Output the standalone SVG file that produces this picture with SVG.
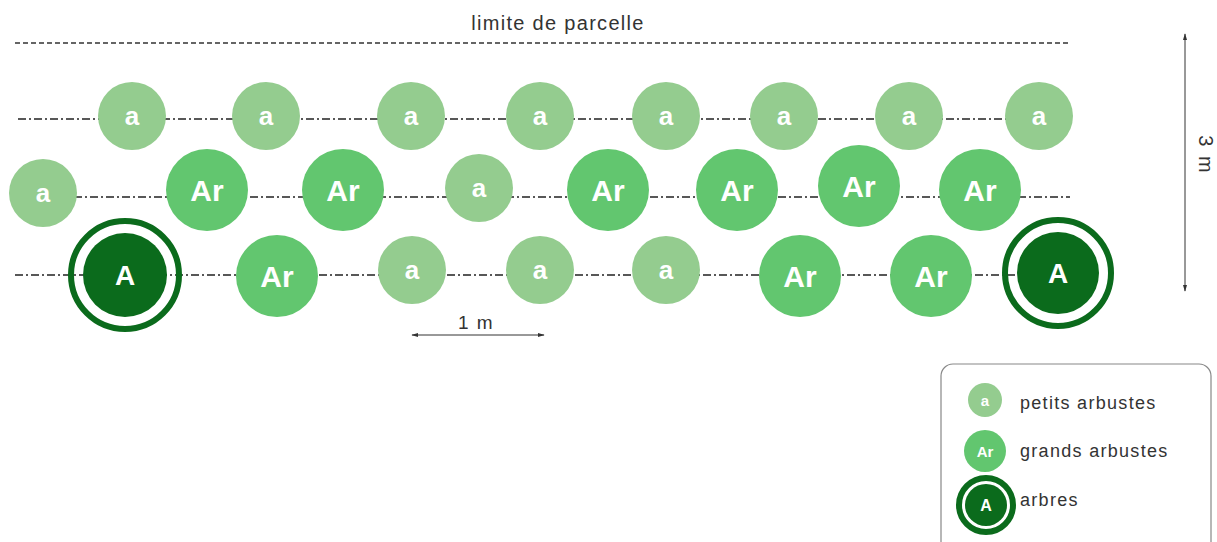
<svg xmlns="http://www.w3.org/2000/svg" width="1217" height="542" viewBox="0 0 1217 542">
<style>
  .t { font-family: "Liberation Sans", Arial, sans-serif; fill: #333; }
  .lbl { font-family: "Liberation Sans", Arial, sans-serif; fill: #fff; font-weight: bold; text-anchor: middle; }
  .pa { fill: #94cc8f; }
  .ga { fill: #62c66f; }
  .ar { fill: #0b6b1c; }
  .ring { fill: none; stroke: #0b6b1c; stroke-width: 6; }
  .row { stroke: #222; stroke-width: 1.6; stroke-dasharray: 8 3 2 3; fill: none; }
  .dim { stroke: #333; stroke-width: 1; fill: none; }
</style>
<defs>
  <marker id="ah" viewBox="0 0 10 10" refX="9" refY="5" markerWidth="7" markerHeight="7" orient="auto-start-reverse">
    <path d="M0,2 L10,5 L0,8 z" fill="#333"/>
  </marker>
</defs>
<rect width="1217" height="542" fill="#fff"/>

<g id="parcel-limit">
  <text class="t" x="558" y="30" font-size="20" letter-spacing="1.3" text-anchor="middle">limite de parcelle</text>
  <line x1="15" y1="43" x2="1068" y2="43" stroke="#333" stroke-width="1.4" stroke-dasharray="5 3"/>
</g>

<g id="connectors">
  <line class="row" x1="18" y1="119" x2="1040" y2="119"/>
  <line class="row" x1="42" y1="197" x2="1070" y2="197"/>
  <line class="row" x1="15" y1="275" x2="1058" y2="275"/>
  <line class="dim" x1="1185" y1="34" x2="1185" y2="291" marker-start="url(#ah)" marker-end="url(#ah)"/>
  <line class="dim" x1="412" y1="335" x2="544" y2="335" marker-start="url(#ah)" marker-end="url(#ah)"/>
</g>

<g id="dimensions">
  <text class="t" x="0" y="0" font-size="20" letter-spacing="2" text-anchor="middle" transform="translate(1199,155) rotate(90)">3 m</text>
  <text class="t" x="476" y="329" font-size="19" letter-spacing="1.5" text-anchor="middle">1 m</text>
</g>

<g id="row1">
  <g id="r1a1"><circle class="pa" cx="132" cy="116" r="34"/><text class="lbl" x="132" y="125" font-size="26">a</text></g>
  <g id="r1a2"><circle class="pa" cx="266" cy="116" r="34"/><text class="lbl" x="266" y="125" font-size="26">a</text></g>
  <g id="r1a3"><circle class="pa" cx="411" cy="116" r="34"/><text class="lbl" x="411" y="125" font-size="26">a</text></g>
  <g id="r1a4"><circle class="pa" cx="540" cy="116" r="34"/><text class="lbl" x="540" y="125" font-size="26">a</text></g>
  <g id="r1a5"><circle class="pa" cx="666" cy="116" r="34"/><text class="lbl" x="666" y="125" font-size="26">a</text></g>
  <g id="r1a6"><circle class="pa" cx="784" cy="116" r="34"/><text class="lbl" x="784" y="125" font-size="26">a</text></g>
  <g id="r1a7"><circle class="pa" cx="909" cy="116" r="34"/><text class="lbl" x="909" y="125" font-size="26">a</text></g>
  <g id="r1a8"><circle class="pa" cx="1039" cy="116" r="34"/><text class="lbl" x="1039" y="125" font-size="26">a</text></g>
</g>

<g id="row2">
  <g id="r2a1"><circle class="pa" cx="43" cy="193" r="34"/><text class="lbl" x="43" y="202" font-size="26">a</text></g>
  <g id="r2g1"><circle class="ga" cx="207" cy="190" r="41"/><text class="lbl" x="207" y="201" font-size="30">Ar</text></g>
  <g id="r2g2"><circle class="ga" cx="343" cy="190" r="41"/><text class="lbl" x="343" y="201" font-size="30">Ar</text></g>
  <g id="r2a2"><circle class="pa" cx="479" cy="188" r="34"/><text class="lbl" x="479" y="197" font-size="26">a</text></g>
  <g id="r2g3"><circle class="ga" cx="608" cy="190" r="41"/><text class="lbl" x="608" y="201" font-size="30">Ar</text></g>
  <g id="r2g4"><circle class="ga" cx="737" cy="190" r="41"/><text class="lbl" x="737" y="201" font-size="30">Ar</text></g>
  <g id="r2g5"><circle class="ga" cx="859" cy="186" r="41"/><text class="lbl" x="859" y="197" font-size="30">Ar</text></g>
  <g id="r2g6"><circle class="ga" cx="980" cy="190" r="41"/><text class="lbl" x="980" y="201" font-size="30">Ar</text></g>
</g>

<g id="row3">
  <g id="r3A1"><circle class="ring" cx="125" cy="275" r="54"/><circle class="ar" cx="125" cy="275" r="42"/><text class="lbl" x="125" y="285" font-size="28">A</text></g>
  <g id="r3g1"><circle class="ga" cx="277" cy="276" r="41"/><text class="lbl" x="277" y="287" font-size="30">Ar</text></g>
  <g id="r3a1"><circle class="pa" cx="412" cy="270" r="34"/><text class="lbl" x="412" y="279" font-size="26">a</text></g>
  <g id="r3a2"><circle class="pa" cx="540" cy="270" r="34"/><text class="lbl" x="540" y="279" font-size="26">a</text></g>
  <g id="r3a3"><circle class="pa" cx="666" cy="270" r="34"/><text class="lbl" x="666" y="279" font-size="26">a</text></g>
  <g id="r3g2"><circle class="ga" cx="800" cy="276" r="41"/><text class="lbl" x="800" y="287" font-size="30">Ar</text></g>
  <g id="r3g3"><circle class="ga" cx="931" cy="276" r="41"/><text class="lbl" x="931" y="287" font-size="30">Ar</text></g>
  <g id="r3A2"><circle class="ring" cx="1058" cy="273" r="53"/><circle class="ar" cx="1058" cy="273" r="41"/><text class="lbl" x="1058" y="283" font-size="28">A</text></g>
</g>

<g id="legend">
  <rect x="941" y="364" width="270" height="190" rx="12" fill="#fff" stroke="#888" stroke-width="1.2"/>
  <g id="leg-a"><circle class="pa" cx="985" cy="400" r="17"/><text class="lbl" x="985" y="406" font-size="15">a</text>
    <text class="t" x="1020" y="409" font-size="18" letter-spacing="1.3">petits arbustes</text></g>
  <g id="leg-ar"><circle class="ga" cx="985" cy="451" r="21"/><text class="lbl" x="985" y="457" font-size="15">Ar</text>
    <text class="t" x="1020" y="457" font-size="18" letter-spacing="1.3">grands arbustes</text></g>
  <g id="leg-A"><circle class="ring" cx="986" cy="505" r="27" stroke-width="4"/><circle class="ar" cx="986" cy="505" r="21"/><text class="lbl" x="986" y="511" font-size="16">A</text>
    <text class="t" x="1020" y="506" font-size="18" letter-spacing="1.3">arbres</text></g>
</g>
</svg>
